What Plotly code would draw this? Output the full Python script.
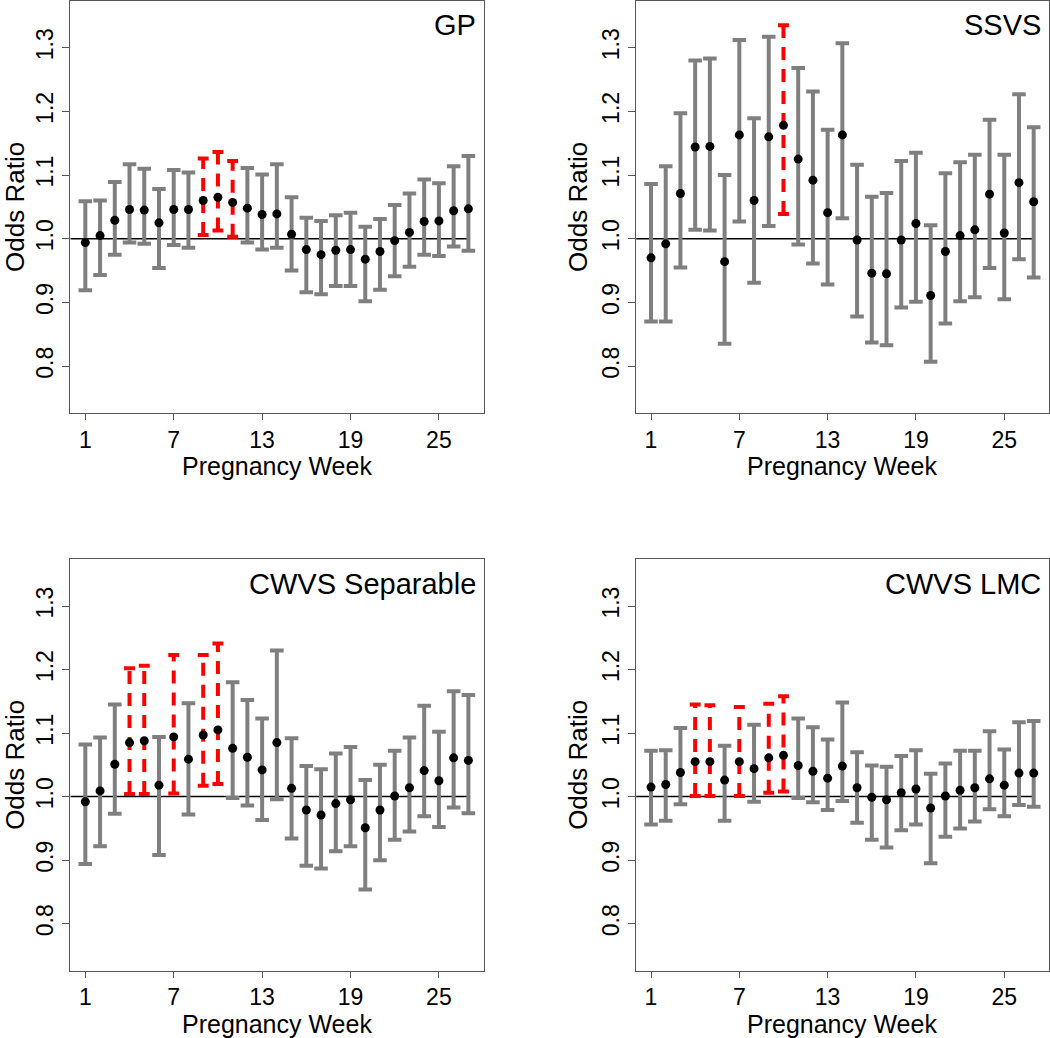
import plotly.graph_objects as go
from plotly.subplots import make_subplots

weeks = list(range(1, 28))

# posterior odds ratio per week, with 95% interval bounds
gp_est = [0.994, 1.005, 1.029, 1.046, 1.045, 1.025, 1.046, 1.046, 1.060, 1.065,
          1.057, 1.048, 1.038, 1.039, 1.007, 0.983, 0.975, 0.982, 0.983, 0.968,
          0.980, 0.997, 1.010, 1.027, 1.028, 1.044, 1.047]
gp_lower = [0.919, 0.943, 0.975, 0.994, 0.992, 0.954, 0.990, 0.986, 1.006, 1.013,
            1.003, 0.994, 0.983, 0.986, 0.950, 0.916, 0.913, 0.926, 0.926, 0.902,
            0.920, 0.941, 0.956, 0.975, 0.973, 0.988, 0.981]
gp_upper = [1.059, 1.060, 1.089, 1.117, 1.110, 1.078, 1.108, 1.104, 1.126, 1.136,
            1.122, 1.111, 1.101, 1.117, 1.065, 1.033, 1.028, 1.037, 1.041, 1.019,
            1.031, 1.053, 1.071, 1.093, 1.087, 1.114, 1.130]
gp_flagged = [9, 10, 11]

ssvs_est = [0.970, 0.992, 1.071, 1.144, 1.145, 0.964, 1.163, 1.060, 1.160, 1.178,
            1.125, 1.092, 1.041, 1.163, 0.998, 0.946, 0.945, 0.998, 1.024, 0.911,
            0.980, 1.005, 1.014, 1.070, 1.009, 1.088, 1.058]
ssvs_lower = [0.870, 0.870, 0.955, 1.014, 1.013, 0.835, 1.027, 0.931, 1.020, 1.039,
              0.991, 0.961, 0.928, 1.032, 0.878, 0.837, 0.833, 0.892, 0.901, 0.807,
              0.867, 0.902, 0.908, 0.954, 0.905, 0.968, 0.939]
ssvs_upper = [1.086, 1.114, 1.197, 1.280, 1.283, 1.100, 1.312, 1.189, 1.317, 1.335,
              1.268, 1.231, 1.171, 1.307, 1.116, 1.066, 1.072, 1.122, 1.135, 1.021,
              1.103, 1.120, 1.132, 1.187, 1.132, 1.227, 1.175]
ssvs_flagged = [10]

sep_est = [0.992, 1.009, 1.051, 1.085, 1.088, 1.018, 1.094, 1.059, 1.097, 1.105,
           1.076, 1.062, 1.042, 1.085, 1.013, 0.979, 0.971, 0.989, 0.995, 0.951,
           0.979, 1.001, 1.014, 1.041, 1.025, 1.061, 1.057]
sep_lower = [0.894, 0.922, 0.973, 1.004, 1.004, 0.908, 1.005, 0.972, 1.017, 1.020,
             0.998, 0.986, 0.963, 0.996, 0.934, 0.891, 0.887, 0.914, 0.922, 0.854,
             0.900, 0.932, 0.945, 0.969, 0.952, 0.983, 0.974]
sep_upper = [1.082, 1.093, 1.145, 1.202, 1.206, 1.094, 1.223, 1.147, 1.223, 1.241,
             1.180, 1.152, 1.123, 1.230, 1.092, 1.048, 1.043, 1.068, 1.078, 1.026,
             1.050, 1.072, 1.093, 1.143, 1.102, 1.166, 1.160]
sep_flagged = [4, 5, 7, 9, 10]

lmc_est = [1.015, 1.019, 1.038, 1.055, 1.055, 1.026, 1.055, 1.044, 1.061, 1.065,
           1.049, 1.040, 1.029, 1.048, 1.014, 0.999, 0.995, 1.006, 1.012, 0.982,
           1.001, 1.010, 1.014, 1.028, 1.018, 1.037, 1.037]
lmc_lower = [0.956, 0.962, 0.988, 1.001, 1.001, 0.962, 1.001, 0.992, 1.006, 1.008,
             0.998, 0.991, 0.979, 0.993, 0.959, 0.932, 0.920, 0.947, 0.956, 0.895,
             0.937, 0.950, 0.961, 0.980, 0.969, 0.987, 0.984]
lmc_upper = [1.072, 1.073, 1.108, 1.145, 1.144, 1.080, 1.141, 1.113, 1.146, 1.158,
             1.123, 1.109, 1.090, 1.148, 1.070, 1.049, 1.047, 1.064, 1.073, 1.036,
             1.052, 1.072, 1.072, 1.103, 1.074, 1.117, 1.119]
lmc_flagged = [4, 5, 7, 9, 10]

panels = [
    ("GP", gp_est, gp_lower, gp_upper, gp_flagged, 1, 1),
    ("SSVS", ssvs_est, ssvs_lower, ssvs_upper, ssvs_flagged, 1, 2),
    ("CWVS Separable", sep_est, sep_lower, sep_upper, sep_flagged, 2, 1),
    ("CWVS LMC", lmc_est, lmc_lower, lmc_upper, lmc_flagged, 2, 2),
]

FONT = "Liberation Sans, Arial, Helvetica, sans-serif"
GRAY = "#7f7f7f"
RED = "#ff0000"
AXIS = "#555555"
W, H = 1050, 1038


def segments(xs, lo, hi, half):
    """vertical shafts and the two caps for each interval, None-separated"""
    sx, sy, cx, cy = [], [], [], []
    for x, l, h in zip(xs, lo, hi):
        sx += [x, x, None]
        sy += [l, h, None]
        cx += [x - half, x + half, None, x - half, x + half, None]
        cy += [l, l, None, h, h, None]
    return sx, sy, cx, cy


fig = make_subplots(rows=2, cols=2)

for name, est, lo, hi, flagged, r, c in panels:
    # reference line at OR = 1
    fig.add_trace(go.Scatter(x=[0, 27], y=[1, 1], mode="lines",
                             line=dict(color="black", width=1.5),
                             hoverinfo="skip"), row=r, col=c)

    plain = [i for i, w in enumerate(weeks) if w not in flagged]
    hot = [i for i, w in enumerate(weeks) if w in flagged]

    sx, sy, cx, cy = segments([weeks[i] for i in plain], [lo[i] for i in plain],
                              [hi[i] for i in plain], 0.46)
    fig.add_trace(go.Scatter(x=sx + cx, y=sy + cy, mode="lines",
                             line=dict(color=GRAY, width=4),
                             hoverinfo="skip"), row=r, col=c)

    sx, sy, cx, cy = segments([weeks[i] for i in hot], [lo[i] for i in hot],
                              [hi[i] for i in hot], 0.37)
    fig.add_trace(go.Scatter(x=sx, y=sy, mode="lines",
                             line=dict(color=RED, width=4, dash="13px,9px"),
                             hoverinfo="skip"), row=r, col=c)
    fig.add_trace(go.Scatter(x=cx, y=cy, mode="lines",
                             line=dict(color=RED, width=4),
                             hoverinfo="skip"), row=r, col=c)

    fig.add_trace(go.Scatter(x=weeks, y=est, mode="markers",
                             marker=dict(color="black", size=9),
                             name=name), row=r, col=c)

# plot boxes positioned to match the original panel grid (pixels)
x_px = {1: (70, 483.7), 2: (635.7, 1049)}
y_px = {1: (0.5, 413.3), 2: (559, 970.7)}
x_dom = {k: [a / W, b / W] for k, (a, b) in x_px.items()}
y_dom = {k: [1 - b / H, 1 - a / H] for k, (a, b) in y_px.items()}
ytitle_x = {1: 15, 2: 578}

for name, est, lo, hi, flagged, r, c in panels:
    fig.update_xaxes(domain=x_dom[c], range=[-0.04, 28.04], automargin=False,
                     tickvals=[1, 7, 13, 19, 25], ticks="outside", ticklen=6,
                     tickcolor=AXIS, showline=True, mirror=True, linecolor=AXIS,
                     linewidth=1, showgrid=False, zeroline=False,
                     tickfont=dict(size=23, color="black"),
                     row=r, col=c)
    fig.update_yaxes(domain=y_dom[r], range=[0.726, 1.374], automargin=False,
                     tickvals=[0.8, 0.9, 1.0, 1.1, 1.2, 1.3],
                     ticktext=["0.8", "0.9", "1.0", "1.1", "1.2", "1.3"],
                     tickangle=-90, ticks="outside", ticklen=7, tickcolor=AXIS,
                     showline=True, mirror=True, linecolor=AXIS, linewidth=1,
                     showgrid=False, zeroline=False,
                     tickfont=dict(size=23, color="black"),
                     row=r, col=c)
    # axis titles
    fig.add_annotation(text="Pregnancy Week", xref="paper", yref="paper",
                       x=sum(x_dom[c]) / 2, y=1 - (y_px[r][1] + 53) / H,
                       xanchor="center", yanchor="middle", showarrow=False,
                       font=dict(size=25, color="black"))
    fig.add_annotation(text="Odds Ratio", xref="paper", yref="paper",
                       x=ytitle_x[c] / W, y=sum(y_dom[r]) / 2, textangle=-90,
                       xanchor="center", yanchor="middle", showarrow=False,
                       font=dict(size=26, color="black"))
    # panel label
    fig.add_annotation(text=name, xref="paper", yref="paper",
                       x=x_dom[c][1], y=y_dom[r][1], xanchor="right", yanchor="top",
                       xshift=-6, yshift=-7, showarrow=False,
                       font=dict(size=29, color="black"))

fig.update_layout(width=W, height=H, showlegend=False,
                  margin=dict(l=0, r=0, t=0, b=0),
                  paper_bgcolor="white", plot_bgcolor="white",
                  font=dict(family=FONT, color="black"))

# the page's default body margin would shift the figure by 8px
fig.write_html("out.html", config={"displayModeBar": False},
               post_script="document.body.style.margin='0';")
